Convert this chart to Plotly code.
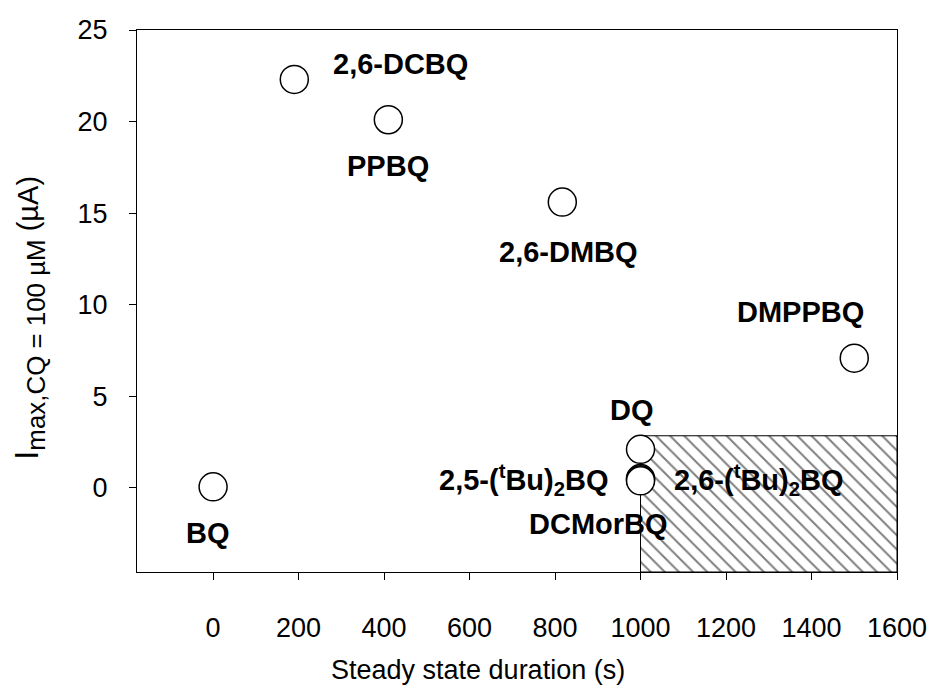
import plotly.graph_objects as go

# ---- data ----
compounds = ["BQ", "2,6-DCBQ", "PPBQ", "2,6-DMBQ", "DMPPBQ", "DQ",
             "2,5-(tBu)2BQ", "2,6-(tBu)2BQ", "DCMorBQ"]
duration_s = [0, 190, 410, 817, 1500, 1000, 1000, 1000, 1000]
imax_uA = [0.05, 22.3, 20.1, 15.6, 7.08, 2.1, 0.5, 0.44, 0.38]

label_text = ["BQ", "2,6-DCBQ", "PPBQ", "2,6-DMBQ", "DMPPBQ", "DQ",
              "2,5-(<sup>t</sup>Bu)<sub>2</sub>BQ",
              "2,6-(<sup>t</sup>Bu)<sub>2</sub>BQ", "DCMorBQ"]
label_x = [-12, 438, 410, 831, 1375, 981, 728, 1276, 902]
label_y = [-2.45, 23.15, 17.6, 12.85, 9.59, 4.25, 0.44, 0.44, -2.0]

hatch_x = [1000, 1600]
hatch_y = [-4.6, 2.84]

x_range = [-178, 1600]
y_range = [-4.6, 25]
x_ticks = [0, 200, 400, 600, 800, 1000, 1200, 1400, 1600]
y_ticks = [0, 5, 10, 15, 20, 25]

x_title = "Steady state duration (s)"
y_title = ("<span style='font-size:34px'>I</span>"
           "<span style='font-size:37px'><sub>max,CQ = 100 µM</sub></span>"
           " (µA)")

FONT = "Liberation Sans, Arial, sans-serif"

fig = go.Figure()

# hatched region
fig.add_trace(go.Scatter(
    x=[hatch_x[0], hatch_x[1], hatch_x[1], hatch_x[0], hatch_x[0]],
    y=[hatch_y[0], hatch_y[0], hatch_y[1], hatch_y[1], hatch_y[0]],
    mode="lines", fill="toself",
    fillcolor="white",
    fillpattern=dict(shape="\\", size=10, solidity=0.2,
                     fgcolor="black", bgcolor="white"),
    line=dict(color="black", width=1),
    hoverinfo="skip", showlegend=False,
))

# points
fig.add_trace(go.Scatter(
    x=duration_s, y=imax_uA, mode="markers",
    marker=dict(symbol="circle", size=28, color="white",
                line=dict(color="black", width=1.5)),
    text=compounds, showlegend=False,
))

for t, lx, ly in zip(label_text, label_x, label_y):
    fig.add_annotation(x=lx, y=ly, text="<b>" + t + "</b>", showarrow=False,
                       xanchor="center", yanchor="middle",
                       font=dict(family=FONT, size=29, color="black"))

# axis titles
fig.add_annotation(xref="paper", yref="paper", x=0.449, y=-0.18,
                   text=x_title, showarrow=False, borderpad=0,
                   xanchor="center", yanchor="middle",
                   font=dict(family=FONT, size=27, color="black"))
fig.add_annotation(xref="paper", yref="paper", x=-0.143, y=0.469,
                   text=y_title, showarrow=False, textangle=-90, borderpad=0,
                   xanchor="center", yanchor="middle",
                   font=dict(family=FONT, size=29, color="black"))

fig.update_layout(
    width=939, height=691,
    margin=dict(l=129, r=50, t=22, b=127),
    plot_bgcolor="white", paper_bgcolor="white",
    font=dict(family=FONT, color="black"),
)

fig.update_xaxes(
    range=x_range, tickvals=x_ticks, ticktext=[str(v) for v in x_ticks],
    showgrid=False, zeroline=False, automargin=False,
    showline=True, linecolor="black", linewidth=1, mirror=True,
    ticks="outside", ticklen=7, tickcolor="black", tickwidth=1,
    tickfont=dict(family=FONT, size=27, color="black"),
    ticklabelstandoff=25,
)
fig.update_yaxes(
    range=y_range, tickvals=y_ticks, ticktext=[str(v) for v in y_ticks],
    showgrid=False, zeroline=False, automargin=False,
    showline=True, linecolor="black", linewidth=1, mirror=True,
    ticks="outside", ticklen=7, tickcolor="black", tickwidth=1,
    tickfont=dict(family=FONT, size=27, color="black"),
    ticklabelstandoff=16,
)

fig.write_html("out.html")
